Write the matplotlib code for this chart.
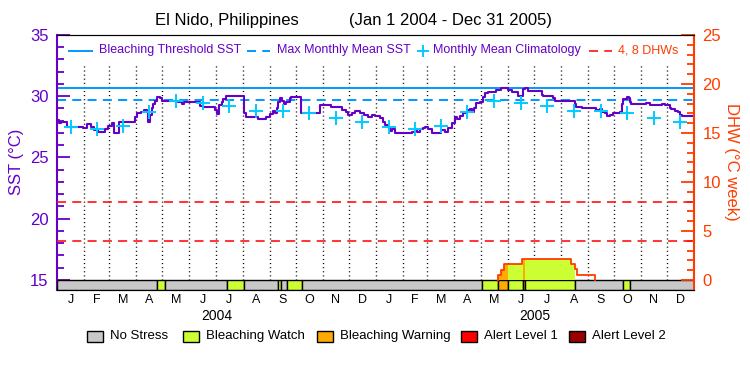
import numpy as np
import pandas as pd
import matplotlib
matplotlib.use('Agg')
import matplotlib.pyplot as plt
from matplotlib.lines import Line2D
from matplotlib.patches import Rectangle
from matplotlib.ticker import MultipleLocator

plt.rcParams['font.family'] = ['Liberation Sans', 'DejaVu Sans']
plt.rcParams['lines.scale_dashes'] = False

PURPLE = '#6400c8'
ORANGE = '#ff3c00'
BLUE = '#0099ff'
CYAN = '#00ccff'
RED = '#ff1010'

# SST (deg C) at the day it changes, days counted from Jan 1 2004
sst_day = [0, 2, 5, 11, 30, 35, 39, 43, 47, 55, 59, 63, 65, 71, 90, 92, 96, 100,
           103, 105, 107, 109, 110, 113, 115, 118, 121, 125, 139, 143, 146, 150,
           164, 168, 181, 184, 186, 189, 191, 194, 215, 217, 231, 240, 244, 248,
           250, 252, 254, 256, 258, 260, 263, 267, 269, 280, 302, 315, 327, 332,
           334, 338, 342, 348, 352, 357, 361, 365, 371, 374, 376, 380, 382, 384,
           388, 407, 411, 413, 416, 420, 422, 426, 430, 441, 445, 449, 453, 457,
           459, 462, 466, 470, 474, 476, 479, 481, 485, 489, 491, 495, 504, 510,
           518, 522, 529, 535, 537, 541, 556, 558, 569, 572, 594, 596, 598, 602,
           619, 623, 625, 629, 631, 635, 638, 646, 648, 650, 654, 656, 657, 659,
           676, 679, 681, 694, 698, 703, 705, 709, 713, 715, 717, 731]
sst_val = [28.1, 27.8, 27.92, 27.5, 27.43, 27.7, 27.46, 27.24, 27.1, 27.3, 27.57,
           27.8, 26.97, 27.9, 28.33, 28.6, 28.74, 28.88, 28.74, 27.92, 28.5, 29.0,
           29.37, 29.6, 29.97, 29.84, 29.64, 29.6, 29.53, 29.37, 29.57, 29.53,
           29.2, 29.1, 28.9, 28.55, 29.3, 29.5, 29.75, 30.05, 28.6, 28.33, 28.12,
           28.3, 28.53, 28.8, 28.6, 29.0, 29.56, 29.84, 29.6, 29.37, 29.56, 29.83,
           29.97, 28.66, 29.26, 29.15, 28.9, 28.7, 28.5, 28.66, 28.8, 28.66, 28.44,
           28.33, 28.5, 28.39, 28.2, 27.92, 27.65, 27.5, 27.19, 27.3, 26.97, 27.11,
           27.3, 27.11, 27.3, 27.4, 27.5, 27.3, 26.97, 27.24, 27.11, 27.38, 27.79,
           28.33, 28.12, 28.4, 28.6, 28.88, 28.93, 28.74, 29.01, 29.42, 29.56,
           29.97, 30.24, 30.38, 30.51, 30.65, 30.51, 30.38, 30.02, 30.6, 30.65,
           30.43, 30.1, 30.02, 29.83, 29.64, 29.37, 29.15, 29.1, 29.0, 28.88,
           28.93, 28.75, 28.6, 28.39, 28.5, 28.6, 28.75, 29.37, 29.75, 29.9, 29.84,
           29.56, 29.37, 29.48, 29.42, 29.3, 29.37, 29.3, 29.0, 28.93, 28.82, 28.7,
           28.5, 28.39, 28.39]

# monthly mean climatology, Jan..Dec
clim_sst = [27.46, 27.3, 27.6, 28.69, 29.64, 29.42, 29.23, 28.82, 28.82, 28.66,
            28.25, 27.92]
mmm_sst = 29.67
dhw_levels = [4, 8]

# degree heating weeks, step changes
dhw_day = [506, 509, 513, 534, 590, 594, 597, 617]
dhw_val = [0.5, 1.0, 1.6, 2.1, 1.6, 1.1, 0.5, 0.0]

# stress level segments: 0 none, 1 watch, 2 warning, 3 alert 1, 4 alert 2
stress_start = [0, 114.4, 124.3, 194.7, 214.9, 254, 256.7, 264.3, 281.5, 488,
                506, 517, 535, 537.6, 594, 649, 657]
stress_end = [114.4, 124.3, 194.7, 214.9, 254, 256.7, 264.3, 281.5, 488, 506,
              517, 535, 537.6, 594, 649, 657, 731]
stress_level = [0, 1, 0, 1, 0, 1, 0, 1, 0, 1, 2, 1, 2, 1, 0, 1, 0]
stress_names = ['No Stress', 'Bleaching Watch', 'Bleaching Warning',
                'Alert Level 1', 'Alert Level 2']
stress_colors = ['#c8c8c8', '#ccff33', '#ffaa00', '#ff0000', '#990000']

month_letters = ['J', 'F', 'M', 'A', 'M', 'J', 'J', 'A', 'S', 'O', 'N', 'D'] * 2
years = ['2004', '2005']

SST_LO, SST_HI = 14.18, 35.0


def to_dhw(sst):
    return (sst - 15.0) * 1.25


def main():
    fig = plt.figure(figsize=(7.5, 3.75), dpi=100)
    ax = fig.add_axes([57 / 750, 1 - 290 / 375, 637 / 750, 255 / 375])
    ax2 = ax.twinx()

    t0 = pd.Timestamp('2004-01-01')
    month_start = pd.date_range('2004-01-01', '2006-01-01', freq='MS')
    mdays = np.array([(d - t0).days for d in month_start], dtype=float)
    mid = (mdays[:-1] + mdays[1:]) / 2
    ndays = mdays[-1]

    ax.set_xlim(0, ndays)
    ax.set_ylim(SST_LO, SST_HI)
    ax2.set_ylim(to_dhw(SST_LO), to_dhw(SST_HI))

    # month separators
    ax.vlines(mdays[1:-1], 15, 32.7, colors='black', lw=1,
              linestyles=[(0, (0.75, 2.2))], zorder=1)

    ax.axhline(mmm_sst + 1, color=BLUE, lw=1.4, zorder=2)
    ax.axhline(mmm_sst, color=BLUE, lw=1.4, ls=(0, (6.5, 4.5)), zorder=2)
    for lv in dhw_levels:
        ax2.axhline(lv, color=RED, lw=1.2, ls=(0, (6.5, 4.5)), zorder=2)

    ax.plot(sst_day, sst_val, drawstyle='steps-post', color=PURPLE, lw=1.5, zorder=4)
    ax.plot(mid, clim_sst * 2, '+', color=CYAN, ms=10, mew=1.4, zorder=5)

    # stress bar
    for s, e, lv in zip(stress_start, stress_end, stress_level):
        ax.bar(s, 15 - SST_LO, e - s, bottom=SST_LO, align='edge',
               color=stress_colors[lv], edgecolor='black', lw=1, zorder=3)

    # DHW filled by stress colour, then outline
    dhw_end = dhw_day[1:] + [dhw_day[-1]]
    for s, e, lv in zip(stress_start, stress_end, stress_level):
        if lv == 0:
            continue
        for d0, d1, v in zip(dhw_day, dhw_end, dhw_val):
            lo, hi = max(s, d0), min(e, d1)
            if hi > lo and v > 0:
                ax2.bar(lo, v, hi - lo, align='edge', color=stress_colors[lv],
                        lw=0, zorder=2)
    ax2.plot([dhw_day[0]] + dhw_day, [0] + dhw_val, drawstyle='steps-post',
             color=ORANGE, lw=1.3, zorder=3)

    # axes styling
    for a in (ax, ax2):
        a.spines['top'].set_color('black')
        a.spines['bottom'].set_color('black')
        a.set_xticks([])
    ax.spines['left'].set_color(PURPLE)
    ax.spines['left'].set_linewidth(1.5)
    ax.spines['right'].set_visible(False)
    ax2.spines['left'].set_visible(False)
    ax2.spines['right'].set_color(ORANGE)
    ax2.spines['right'].set_linewidth(1.5)

    ax.set_yticks(np.arange(15, 36, 5))
    ax.set_yticks(np.arange(15, 36, 1), minor=True)
    ax.tick_params(axis='y', which='major', direction='in', length=9.5, width=1.3,
                   color=PURPLE, labelcolor=PURPLE, labelsize=12, pad=6)
    ax.tick_params(axis='y', which='minor', direction='in', length=5, width=1.3,
                   color=PURPLE)
    ax2.set_yticks(np.arange(0, 26, 5))
    ax2.set_yticks(np.arange(0, 26, 1), minor=True)
    ax2.tick_params(axis='y', which='major', direction='in', length=9.5, width=1.3,
                    color=ORANGE, labelcolor=ORANGE, labelsize=12, pad=6)
    ax2.tick_params(axis='y', which='minor', direction='in', length=5, width=1.3,
                    color=ORANGE)

    # month and year labels
    for m, lab in zip(mid, month_letters):
        ax.text(m, -0.04, lab, transform=ax.get_xaxis_transform(), ha='center',
                va='center', fontsize=9)
    for i, y in enumerate(years):
        ax.text((mdays[12 * i] + mdays[12 * i + 12]) / 2, -0.1, y,
                transform=ax.get_xaxis_transform(), ha='center', va='center',
                fontsize=10)

    fig.text(17 / 750, 1 - 162 / 375, 'SST (\u00b0C)', rotation=90, color=PURPLE,
             ha='center', va='center', fontsize=12)
    fig.text(732 / 750, 1 - 162 / 375, 'DHW (\u00b0C week)', rotation=-90,
             color=ORANGE, ha='center', va='center', fontsize=12)

    fig.text(227 / 750, 1 - 20 / 375, 'El Nido, Philippines', ha='center',
             va='center', fontsize=12)
    fig.text(349 / 750, 1 - 20 / 375, '(Jan 1 2004 - Dec 31 2005)', ha='left',
             va='center', fontsize=12)

    # top legend, figure pixel positions
    ly = 1 - 50.5 / 375
    fig.add_artist(Line2D([69 / 750, 92 / 750], [ly, ly], color=BLUE, lw=1.4))
    fig.add_artist(Line2D([247 / 750, 270 / 750], [ly, ly], color=BLUE, lw=1.4,
                          ls=(0, (6.5, 4.5))))
    fig.add_artist(Line2D([423 / 750], [ly], color=CYAN, marker='+', ms=8,
                          mew=1.4, ls='none'))
    fig.add_artist(Line2D([589 / 750, 612 / 750], [ly, ly], color=RED, lw=1.2,
                          ls=(0, (6.5, 4.5))))
    for x, txt, c in [(99, 'Bleaching Threshold SST', PURPLE),
                      (277, 'Max Monthly Mean SST', PURPLE),
                      (433, 'Monthly Mean Climatology', PURPLE),
                      (618, '4, 8 DHWs', ORANGE)]:
        fig.text(x / 750, ly, txt, color=c, ha='left', va='center', fontsize=9)

    # bottom legend
    by = 336
    for x, name, c in zip([87, 183, 317, 461, 569], stress_names, stress_colors):
        fig.add_artist(Rectangle((x / 750, 1 - (by + 5.5) / 375), 16 / 750, 11 / 375,
                                 facecolor=c, edgecolor='black', lw=1))
        fig.text((x + 23) / 750, 1 - by / 375, name, ha='left', va='center',
                 fontsize=9.5)

    fig.savefig('out.png', dpi=100)


if __name__ == '__main__':
    main()
